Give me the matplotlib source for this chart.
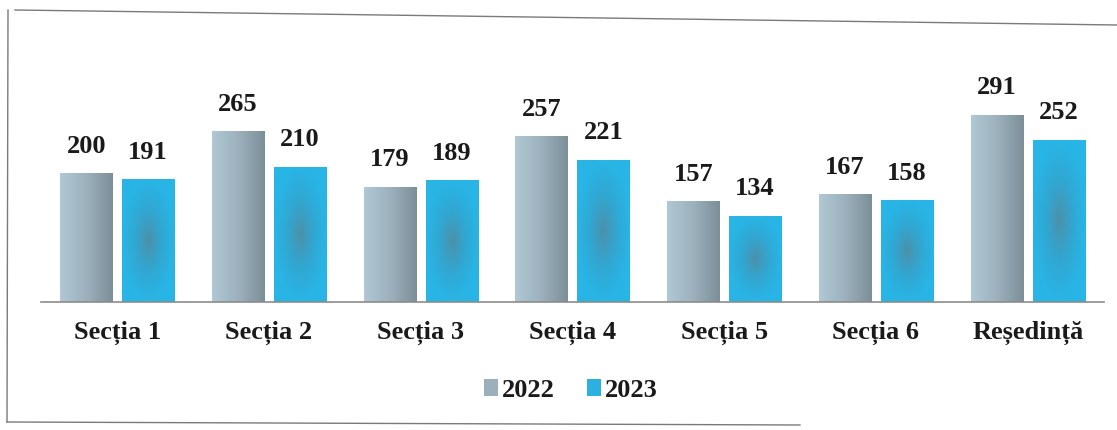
import numpy as np
import matplotlib.pyplot as plt
from matplotlib.lines import Line2D
from matplotlib.colors import LinearSegmentedColormap

# data
categories = ['Secția 1', 'Secția 2', 'Secția 3', 'Secția 4', 'Secția 5', 'Secția 6', 'Reședință']
values_2022 = [200, 265, 179, 257, 157, 167, 291]
values_2023 = [191, 210, 189, 221, 134, 158, 252]
series_names = ['2022', '2023']

plt.rcParams['font.family'] = ['Liberation Serif', 'DejaVu Serif']

fig = plt.figure(figsize=(11.17, 4.30), dpi=100)
ax = fig.add_axes([0.037, 0.298, 0.951, 0.512])

x = np.arange(len(categories))
w = 0.343
off = 0.204

cmap_22 = LinearSegmentedColormap.from_list('c22', ['#b0c7d4', '#9cb1bd', '#7c8f99'])
cmap_23 = LinearSegmentedColormap.from_list('c23', ['#4a92ad', '#31a7d2', '#28b5e6'])

grad_h = np.linspace(0, 1, 64).reshape(1, -1)
gx, gy = np.meshgrid(np.linspace(-1, 1, 64), np.linspace(-1, 1, 64))
grad_r = np.clip(np.sqrt(gx ** 2 + gy ** 2), 0, 1)

bars22 = ax.bar(x - off, values_2022, w, color='#9bb0bb', label=series_names[0], zorder=2)
bars23 = ax.bar(x + off, values_2023, w, color='#2bb0e0', label=series_names[1], zorder=2)

for b in bars22:
    x0, y0 = b.get_x(), b.get_y()
    im = ax.imshow(grad_h, cmap=cmap_22, aspect='auto', zorder=3,
                   extent=[x0, x0 + b.get_width(), y0, y0 + b.get_height()])
    im.set_clip_path(b)
for b in bars23:
    x0, y0 = b.get_x(), b.get_y()
    im = ax.imshow(grad_r, cmap=cmap_23, aspect='auto', zorder=3,
                   extent=[x0, x0 + b.get_width(), y0, y0 + b.get_height()])
    im.set_clip_path(b)

for bars in (bars22, bars23):
    for b in bars:
        ax.annotate(f'{int(b.get_height())}', (b.get_x() + b.get_width() / 2, b.get_height()),
                    xytext=(0, 11), textcoords='offset points', ha='center', va='bottom',
                    fontsize=19, fontweight='bold', color='#1a1a1a')

ax.set_xlim(-0.5, len(categories) - 0.5)
ax.set_ylim(0, 342)
ax.set_xticks(x)
ax.set_xticklabels(categories, fontsize=19, fontweight='bold', color='#1a1a1a')
ax.tick_params(axis='x', length=0, pad=14)
ax.set_yticks([])
for s in ['top', 'right', 'left']:
    ax.spines[s].set_visible(False)
ax.spines['bottom'].set_color('#8c8c8c')
ax.spines['bottom'].set_linewidth(1.2)
ax.spines['bottom'].set_zorder(4)

leg = fig.legend(handles=[bars22, bars23], labels=series_names, loc='center',
                 bbox_to_anchor=(0.511, 0.093), ncol=2, frameon=False,
                 prop={'size': 19, 'weight': 'bold'}, handlelength=0.55, handleheight=0.6,
                 handletextpad=0.15, columnspacing=1.2)
for t in leg.get_texts():
    t.set_color('#1a1a1a')

# scanned frame around chart
W, H = 1117, 430
frame = [((15, 10), (1117, 25)), ((8, 10), (7, 422)), ((7, 422), (800, 425))]
for (xa, ya), (xb, yb) in frame:
    fig.add_artist(Line2D([xa / W, xb / W], [1 - ya / H, 1 - yb / H],
                          color='#7a7a7a', lw=1.0, transform=fig.transFigure))

fig.savefig('out.png', dpi=100)
